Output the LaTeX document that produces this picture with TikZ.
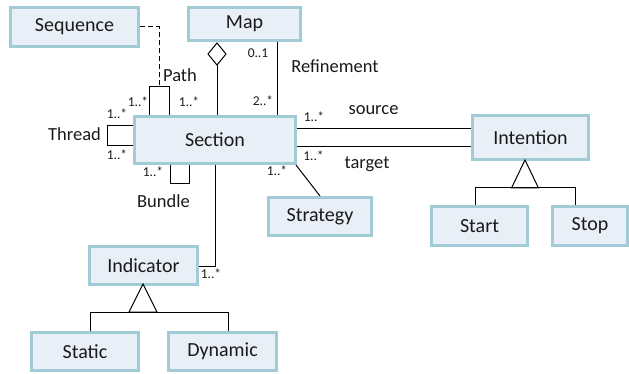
\documentclass[tikz,border=0pt]{standalone}
\usepackage{fontspec}
\setmainfont{Carlito}
\usetikzlibrary{calc}
\definecolor{bordc}{HTML}{A2CCD5}
\definecolor{fillc}{HTML}{E9EFF6}
\definecolor{txtc}{HTML}{1A1A1A}
\tikzset{
 cls/.style={draw=bordc, fill=fillc, line width=3pt, inner sep=0pt, text=txtc, font=\fontsize{20}{24}\selectfont},
 conn/.style={line width=1pt, black},
 lbl/.style={font=\fontsize{18.5}{22}\selectfont, inner sep=0pt, text=txtc},
 mult/.style={font=\fontsize{13.5}{15}\selectfont, inner sep=0pt, text=txtc},
}
\begin{document}
\begin{tikzpicture}[x=1pt,y=1pt]
\useasboundingbox (0,0) rectangle (629,-374);
% classes
\node[cls, minimum width=128, minimum height=39] (seq) at (74.5,-27) {Sequence};
\node[cls, minimum width=112, minimum height=33] (map) at (244.5,-24) {Map};
\node[cls, minimum width=161, minimum height=47] (sec) at (215,-140) {Section};
\node[cls, minimum width=116, minimum height=44] (int) at (530.5,-137.5) {Intention};
\node[cls, minimum width=96, minimum height=39] (start) at (479.5,-226) {Start};
\node[cls, minimum width=75, minimum height=39] (stop) at (590,-226) {Stop};
\node[cls, minimum width=103, minimum height=38] (strat) at (320,-216.5) {Strategy};
\node[cls, minimum width=108, minimum height=38] (ind) at (143.5,-265.5) {Indicator};
\node[cls, minimum width=107, minimum height=38] (stat) at (85,-351.5) {Static};
\node[cls, minimum width=108, minimum height=38] (dyn) at (222.5,-351.5) {Dynamic};
% Sequence dashed link to Path
\coordinate (pathtop) at (159,-87);
\draw[conn, dash pattern=on 5pt off 3pt] (seq.east |- 0,-27) -| (pathtop);
% Path loop
\draw[conn] (sec.north -| 149,0) |- (169,-87) -- (sec.north -| 169,0);
\node[lbl] (pathl) at (180,-75) {Path};
\node[mult] (pm1) at (138,-102) {1..*};
\node[mult] (pm2) at (189,-102) {1..*};
% Thread loop
\draw[conn] (sec.west |- 0,-126) -- (107,-126) -- (107,-146) -- (sec.west |- 0,-146);
\node[lbl] (thr) at (74.5,-134) {Thread};
\node[mult] (tm1) at (117,-114) {1..*};
\node[mult] (tm2) at (117,-155) {1..*};
% Bundle loop
\draw[conn] (sec.south -| 170,0) |- (189,-184) -- (sec.south -| 189,0);
\node[lbl] (bun) at (163.5,-201) {Bundle};
\node[mult] (bm) at (153,-172) {1..*};
% Map aggregation
\coordinate (dtop) at (217,-43);
\coordinate (dbot) at (217,-65);
\draw[conn, fill=white] (dtop) -- (208,-54) -- (dbot) -- (226,-54) -- cycle;
\draw[conn] (dbot) -- (sec.north -| dbot);
% Refinement
\draw[conn] (map.south -| 277,0) -- (sec.north -| 277,0);
\node[mult] (r1) at (258,-53) {0..1};
\node[mult] (r2) at (263,-101) {2..*};
\node[lbl] (ref) at (335,-66) {Refinement};
% source / target
\draw[conn] (sec.east |- 0,-129) -- (int.west |- 0,-129);
\draw[conn] (sec.east |- 0,-147) -- (int.west |- 0,-147);
\node[mult] (sm) at (314,-117) {1..*};
\node[lbl] (src) at (373.5,-110) {source};
\node[mult] (tgm) at (313.5,-156) {1..*};
\node[lbl] (tgt) at (367,-164) {target};
% Strategy
\draw[conn] (296,-165) -- (strat.north -| 320,0);
\node[mult] (stm) at (277,-171) {1..*};
% Indicator
\coordinate (ic) at (215,-266);
\draw[conn] (sec.south -| ic) -- (ic) -- (ind.east |- ic);
\node[mult] (im) at (211,-274) {1..*};
% Indicator generalization
\coordinate (iapex) at (143,-284);
\draw[conn] (iapex) -- (129,-312) -- (157,-312) -- cycle;
\draw[conn] (stat.north -| 90,0) -- (90,-312) -- (228,-312) -- (dyn.north -| 228,0);
% Intention generalization
\coordinate (napex) at (525,-160);
\draw[conn] (napex) -- (511.5,-188) -- (538.5,-188) -- cycle;
\draw[conn] (start.north -| 475,0) -- (475,-188) -- (575,-188) -- (stop.north -| 575,0);
\end{tikzpicture}
\end{document}
